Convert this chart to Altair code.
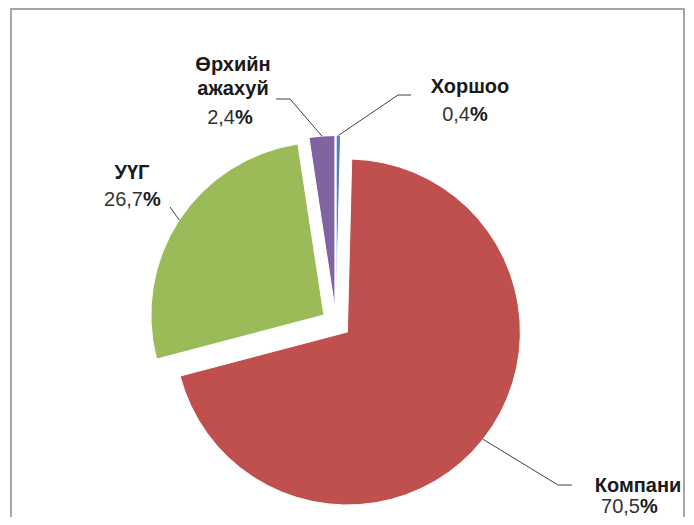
import altair as alt
import pandas as pd

# ---- data ----
categories = ["Хоршоо", "Компани", "УҮГ", "Өрхийн ажахуй"]
shares = [0.4, 70.5, 26.7, 2.4]
colors = ["#4F81BD", "#C0504D", "#9BBB59", "#8064A2"]

# ---- layout (pixels, chart coordinates) ----
name_lines = ["Хоршоо", "Компани", "УҮГ", "Өрхийн\nажахуй"]
name_x = [462, 630, 124, 225]
name_y = [79, 478, 165, 57]
pct_x = [462, 632, 135, 227]
pct_y = [107, 499, 192, 110]
elbow_x = [390, 550, 162, 282]
elbow_y = [87, 477, 199, 91]
end_x = [403, 564, 162, 268]
end_y = [87, 477, 199, 91]

CX, CY, R, EXPLODE = 328, 315, 173, 14.5
FONT = "Liberation Sans, Arial, sans-serif"

df = pd.DataFrame({
    "order": list(range(len(categories))),
    "cat": categories,
    "share": shares,
    "name": name_lines,
    "name_x": name_x, "name_y": name_y,
    "pct_x": pct_x, "pct_y": pct_y,
    "elbow_x": elbow_x, "elbow_y": elbow_y,
    "end_x": end_x, "end_y": end_y,
})

base = (
    alt.Chart(df)
    .transform_window(cum="sum(share)", sort=[alt.SortField("order")], frame=[None, 0])
    .transform_joinaggregate(total="sum(share)")
    .transform_calculate(
        a0="2*PI*(datum.cum - datum.share)/datum.total",
        a1="2*PI*datum.cum/datum.total",
    )
    .transform_calculate(mid="(datum.a0 + datum.a1)/2")
    .transform_calculate(
        cx=f"{CX} + {EXPLODE}*sin(datum.mid)",
        cy=f"{CY} - {EXPLODE}*cos(datum.mid)",
    )
    .transform_calculate(
        ex=f"datum.cx + {R}*sin(datum.mid)",
        ey=f"datum.cy - {R}*cos(datum.mid)",
        val="replace(format(datum.share, '.1f'), '.', ',')",
    )
)

px = lambda f: alt.X(f, scale=None, axis=None)
py = lambda f: alt.Y(f, scale=None, axis=None)

arcs = base.mark_arc(radius=R, stroke="white", strokeWidth=1).encode(
    x=px("cx:Q"),
    y=py("cy:Q"),
    theta=alt.Theta("a0:Q", scale=None, stack=None),
    theta2="a1:Q",
    color=alt.Color("cat:N", scale=alt.Scale(domain=categories, range=colors), legend=None),
)

lead1 = base.mark_rule(color="#404040", strokeWidth=1).encode(
    x=px("ex:Q"), y=py("ey:Q"), x2="elbow_x:Q", y2="elbow_y:Q"
)
lead2 = base.mark_rule(color="#404040", strokeWidth=1).encode(
    x=px("elbow_x:Q"), y=py("elbow_y:Q"), x2="end_x:Q", y2="end_y:Q"
)

names = base.mark_text(
    font=FONT, fontSize=20, fontWeight="bold", lineBreak="\n", lineHeight=23.6,
    align="center", baseline="middle", color="#1a1a1a",
).encode(x=px("name_x:Q"), y=py("name_y:Q"), text="name:N")

nums = base.mark_text(
    font=FONT, fontSize=20, align="right", baseline="middle", color="#333333",
).encode(x=px("pct_x:Q"), y=py("pct_y:Q"), text="val:N")

pcts = base.mark_text(
    font=FONT, fontSize=20, fontWeight="bold", align="left", baseline="middle", color="#1a1a1a",
).encode(x=px("pct_x:Q"), y=py("pct_y:Q"), text=alt.value("%"))

frame = alt.Chart(pd.DataFrame({"a": [0]})).mark_rect(
    fill=None, stroke="#A6A6A6", strokeWidth=2
).encode(x=alt.value(3), x2=alt.value(676), y=alt.value(1), y2=alt.value(560))

chart = (
    alt.layer(frame, arcs, lead1, lead2, names, nums, pcts)
    .properties(width=678, height=509, padding=0, autosize=alt.AutoSizeParams(type="none"))
    .configure_view(stroke=None)
)

chart.save("out.html", embed_options={"renderer": "svg", "actions": False})
